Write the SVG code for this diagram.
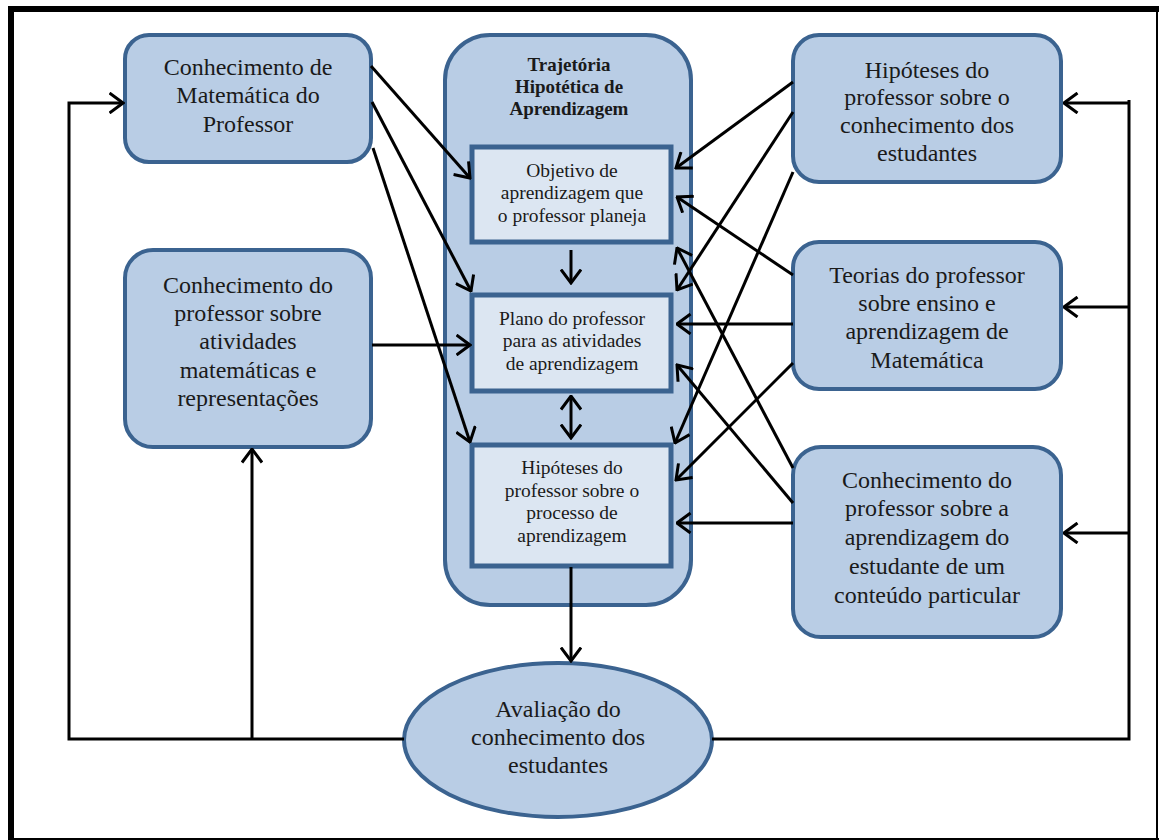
<svg xmlns="http://www.w3.org/2000/svg" width="1159" height="840" viewBox="0 0 1159 840">
<style>
.box{fill:#b9cde5;stroke:#3b6390;stroke-width:4}
.inner{fill:#dce6f2;stroke:#3b6390;stroke-width:5}
.t{font-family:"Liberation Serif","Times New Roman",serif;font-size:24px;fill:#1a1a1a;text-anchor:middle}
.ts{font-family:"Liberation Serif","Times New Roman",serif;font-size:19.5px;fill:#1a1a1a;text-anchor:middle}
.tb{font-family:"Liberation Serif","Times New Roman",serif;font-size:19px;font-weight:bold;fill:#1a1a1a;text-anchor:middle}
.c{stroke:#000;stroke-width:3;fill:none}
.a{marker-end:url(#ah)}
</style>
<defs>
<marker id="ah" viewBox="0 0 16 22" refX="14.5" refY="11" markerWidth="16" markerHeight="22" markerUnits="userSpaceOnUse" orient="auto-start-reverse">
<path d="M1,1 L14.5,11 L1,21" fill="none" stroke="#000" stroke-width="3"/>
</marker>
</defs>
<rect width="1159" height="840" fill="#fff"/>
<g id="frame">
<rect x="8" y="6" width="1151" height="6" fill="#000"/>
<rect x="8" y="6" width="6" height="834" fill="#000"/>
<rect x="1156" y="12" width="2" height="828" fill="#000"/>
<rect x="8" y="838" width="1151" height="2" fill="#000"/>
</g>
<g id="n-matematica">
<rect class="box" x="125" y="35" width="246" height="127" rx="24"/>
<text class="t" x="248" y="75">Conhecimento de</text>
<text class="t" x="248" y="103">Matemática do</text>
<text class="t" x="248" y="132">Professor</text>
</g>
<g id="n-atividades">
<rect class="box" x="125" y="250" width="246" height="197" rx="28"/>
<text class="t" x="248" y="293">Conhecimento do</text>
<text class="t" x="248" y="321">professor sobre</text>
<text class="t" x="248" y="349">atividades</text>
<text class="t" x="248" y="378">matemáticas e</text>
<text class="t" x="248" y="406">representações</text>
</g>
<g id="n-tha">
<rect class="box" x="445" y="35" width="246" height="570" rx="45"/>
<text class="tb" x="569" y="71">Trajetória</text>
<text class="tb" x="569" y="93">Hipotética de</text>
<text class="tb" x="569" y="115">Aprendizagem</text>
</g>
<g id="n-objetivo">
<rect class="inner" x="472" y="147" width="199" height="95"/>
<text class="ts" x="572" y="177">Objetivo de</text>
<text class="ts" x="572" y="199">aprendizagem que</text>
<text class="ts" x="572" y="222">o professor planeja</text>
</g>
<g id="n-plano">
<rect class="inner" x="472" y="295" width="199" height="96"/>
<text class="ts" x="572" y="325">Plano do professor</text>
<text class="ts" x="572" y="347">para as atividades</text>
<text class="ts" x="572" y="370">de aprendizagem</text>
</g>
<g id="n-hipoteses-processo">
<rect class="inner" x="472" y="445" width="199" height="121"/>
<text class="ts" x="572" y="474">Hipóteses do</text>
<text class="ts" x="572" y="497">professor sobre o</text>
<text class="ts" x="572" y="519">processo de</text>
<text class="ts" x="572" y="542">aprendizagem</text>
</g>
<g id="n-hipoteses-conhecimento">
<rect class="box" x="793" y="35" width="268" height="147" rx="26"/>
<text class="t" x="927" y="78">Hipóteses do</text>
<text class="t" x="927" y="105">professor sobre o</text>
<text class="t" x="927" y="133">conhecimento dos</text>
<text class="t" x="927" y="161">estudantes</text>
</g>
<g id="n-teorias">
<rect class="box" x="793" y="242" width="268" height="147" rx="26"/>
<text class="t" x="927" y="283">Teorias do professor</text>
<text class="t" x="927" y="311">sobre ensino e</text>
<text class="t" x="927" y="339">aprendizagem de</text>
<text class="t" x="927" y="368">Matemática</text>
</g>
<g id="n-aprendizagem-estudante">
<rect class="box" x="793" y="447" width="268" height="190" rx="28"/>
<text class="t" x="927" y="488">Conhecimento do</text>
<text class="t" x="927" y="516">professor sobre a</text>
<text class="t" x="927" y="545">aprendizagem do</text>
<text class="t" x="927" y="574">estudante de um</text>
<text class="t" x="927" y="603">conteúdo particular</text>
</g>
<g id="n-avaliacao">
<ellipse class="box" cx="558" cy="740" rx="154" ry="77"/>
<text class="t" x="558" y="717">Avaliação do</text>
<text class="t" x="558" y="745">conhecimento dos</text>
<text class="t" x="558" y="773">estudantes</text>
</g>
<g id="connectors">
<path class="c a" d="M404,739 H69 V103 H123"/>
<path class="c a" d="M252,739 V449"/>
<path class="c" d="M712,739 H1129 V100" stroke-width="4"/>
<path class="c a" d="M1129,103 H1064"/>
<path class="c a" d="M1129,307 H1064"/>
<path class="c a" d="M1129,533 H1064"/>
<path class="c a" d="M371,66 L470,178"/>
<path class="c a" d="M372,102 L471,291"/>
<path class="c a" d="M373,148 L470,442"/>
<path class="c a" d="M372,345 L470,345"/>
<path class="c a" d="M793,82 L676,168"/>
<path class="c a" d="M793,112 L677,290"/>
<path class="c a" d="M793,172 L675,443"/>
<path class="c a" d="M793,275 L677,197"/>
<path class="c a" d="M793,324 L677,324"/>
<path class="c a" d="M793,363 L676,480"/>
<path class="c a" d="M793,468 L677,248"/>
<path class="c a" d="M793,503 L677,365"/>
<path class="c a" d="M793,523 L677,523"/>
<path class="c a" d="M571,250 V283"/>
<path class="c a" d="M571,396 V438" marker-start="url(#ah)"/>
<path class="c a" d="M571,567 V661"/>
</g>
</svg>
